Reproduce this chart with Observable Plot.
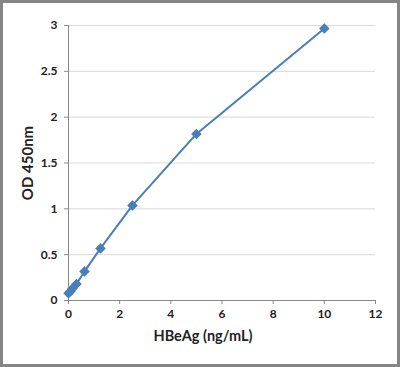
<!DOCTYPE html>
<html>
<head>
<meta charset="utf-8">
<script src="https://cdn.jsdelivr.net/npm/d3@7"></script>
<script src="https://cdn.jsdelivr.net/npm/@observablehq/plot@0.6"></script>
<style>
  html, body { margin: 0; padding: 0; background: #fff; }
</style>
</head>
<body>
<div id="chart"></div>
<script>
const concentration = [0, 0.078, 0.156, 0.3125, 0.625, 1.25, 2.5, 5, 10];
const od450 = [0.08, 0.10, 0.13, 0.18, 0.317, 0.568, 1.037, 1.817, 2.967];
const xTicks = [0, 2, 4, 6, 8, 10, 12];
const yTicks = [0, 0.5, 1, 1.5, 2, 2.5, 3];
const xLabel = "HBeAg (ng/mL)";
const yLabel = "OD 450nm";

const data = concentration.map((c, i) => ({x: c, y: od450[i]}));
const font = "Lato, 'Open Sans', sans-serif";

const chart = Plot.plot({
  width: 400,
  height: 367,
  marginLeft: 68,
  marginRight: 25,
  marginTop: 25,
  marginBottom: 67,
  style: {fontFamily: font, fontSize: "12px", fontWeight: "bold", color: "#222", background: "#fff"},
  x: {domain: [0, 12], ticks: xTicks},
  y: {domain: [0, 3], ticks: yTicks},
  marks: [
    Plot.ruleY(yTicks.filter(d => d > 0), {stroke: "#d9d9d9", strokeWidth: 1, strokeOpacity: 1}),
    Plot.ruleX([0], {stroke: "#898989", strokeOpacity: 1}),
    Plot.ruleY([0], {stroke: "#898989", strokeOpacity: 1}),
    Plot.axisX({ticks: xTicks, tickSize: 4, tickPadding: 5, tickFormat: d => String(d), label: null, stroke: "#898989", strokeOpacity: 1}),
    Plot.axisY({ticks: yTicks, tickSize: 4, tickPadding: 7, tickFormat: d => String(d), label: null, stroke: "#898989", strokeOpacity: 1}),
    Plot.line(data, {x: "x", y: "y", stroke: "#4a7ebb", strokeWidth: 2}),
    Plot.dot(data, {x: "x", y: "y", symbol: "diamond2", fill: "#4a7ebb", stroke: "#4a7ebb", r: 3.8}),
    Plot.text([xLabel], {frameAnchor: "bottom", dx: -19, dy: 40, textAnchor: "middle", fontSize: 14.5, fontWeight: "bold", fill: "#222"}),
    Plot.text([yLabel], {frameAnchor: "left", dx: -40, rotate: -90, textAnchor: "middle", fontSize: 15, fontWeight: "bold", fill: "#222"})
  ]
});

d3.select(chart).append("rect")
  .attr("x", 1.5).attr("y", 1.5).attr("width", 397).attr("height", 364)
  .attr("fill", "none").attr("stroke", "#858585").attr("stroke-width", 3);

document.getElementById("chart").appendChild(chart);
</script>
</body>
</html>
